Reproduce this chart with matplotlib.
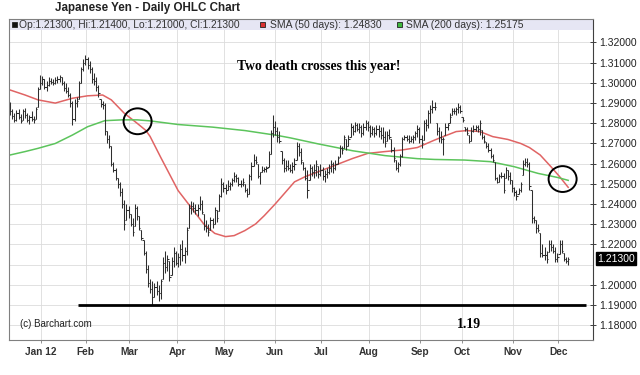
import numpy as np
import matplotlib
matplotlib.use("Agg")
import matplotlib.pyplot as plt
from matplotlib.patches import Rectangle, Ellipse
from matplotlib.transforms import blended_transform_factory

# ---------------- data (prices in pips, 1e-4) ----------------
low = [
    12840,12820,12805,12810,12820,12800,12815,12825,12805,12795,
    12810,12800,12820,12880,12970,12990,12970,12960,12985,12995,
    12990,12995,13000,13005,12990,12960,12950,12930,12880,12790,
    12810,12880,12920,13000,13060,13090,13070,13050,13000,12990,
    12960,12930,12880,12870,12740,12700,12680,12590,12560,12520,
    12480,12440,12380,12270,12320,12330,12290,12240,12290,12320,
    12270,12220,12150,12060,11990,11960,11900,11940,11950,11920,
    11930,12030,12060,12070,12020,12050,12090,12100,12090,12100,
    12120,12110,12150,12280,12350,12360,12350,12340,12370,12350,
    12270,12260,12244,12270,12280,12300,12310,12368,12434,12460,
    12450,12470,12470,12490,12508,12510,12490,12483,12490,12460,
    12434,12450,12520,12590,12600,12530,12500,12558,12560,12560,
    12583,12650,12730,12740,12707,12700,12600,12558,12566,12570,
    12560,12552,12570,12620,12640,12600,12570,12519,12428,12519,
    12540,12530,12540,12527,12540,12520,12510,12530,12550,12560,
    12552,12570,12600,12635,12650,12680,12668,12690,12734,12740,
    12758,12760,12750,12734,12740,12767,12760,12734,12740,12734,
    12740,12730,12720,12700,12684,12710,12720,12660,12610,12570,
    12560,12590,12635,12717,12710,12700,12705,12700,12717,12734,
    12700,12676,12717,12760,12775,12800,12850,12866,12740,12709,
    12700,12643,12740,12767,12800,12841,12845,12840,12850,12850,
    12808,12760,12742,12700,12710,12759,12760,12759,12742,12720,
    12700,12680,12660,12630,12610,12519,12502,12510,12530,12453,
    12530,12519,12500,12461,12440,12420,12450,12460,12544,12590,
    12585,12470,12304,12304,12255,12260,12139,12140,12122,12110,
    12164,12170,12160,12114,12114,12155,12160,12120,12106,12100,
]
high = [
    12905,12870,12850,12865,12870,12845,12870,12875,12850,12840,
    12860,12835,12880,12980,13040,13035,13020,13010,13030,13025,
    13020,13030,13035,13040,13030,13010,13000,12980,12950,12910,
    12920,12930,13010,13080,13120,13140,13130,13110,13080,13050,
    13030,12990,12920,12910,12900,12760,12740,12690,12610,12580,
    12530,12510,12480,12420,12400,12390,12350,12330,12400,12390,
    12340,12270,12220,12170,12100,12030,12020,12010,12020,12000,
    12030,12140,12170,12150,12120,12140,12186,12170,12160,12200,
    12220,12190,12285,12400,12417,12410,12400,12400,12442,12420,
    12350,12320,12300,12335,12330,12385,12370,12450,12530,12510,
    12500,12517,12510,12530,12558,12550,12533,12520,12530,12500,
    12480,12550,12607,12650,12640,12600,12560,12590,12585,12590,
    12665,12765,12840,12810,12780,12760,12665,12630,12616,12620,
    12600,12610,12630,12709,12700,12680,12610,12585,12569,12600,
    12590,12600,12618,12590,12600,12585,12570,12580,12600,12618,
    12610,12620,12640,12693,12690,12742,12720,12740,12800,12790,
    12808,12800,12800,12790,12800,12817,12810,12790,12785,12780,
    12790,12790,12780,12783,12760,12760,12770,12720,12684,12618,
    12610,12650,12734,12742,12742,12740,12735,12740,12760,12790,
    12783,12740,12817,12820,12866,12890,12916,12907,12800,12783,
    12760,12734,12800,12800,12850,12874,12874,12880,12900,12893,
    12833,12783,12780,12740,12780,12792,12790,12792,12817,12767,
    12740,12709,12700,12676,12650,12610,12536,12550,12560,12552,
    12585,12570,12560,12519,12486,12470,12480,12510,12618,12626,
    12626,12610,12470,12340,12320,12300,12255,12200,12188,12170,
    12221,12220,12200,12188,12160,12221,12221,12160,12139,12140,
]
close = [
    12860,12835,12815,12850,12830,12810,12860,12840,12815,12830,
    12820,12815,12870,12970,13000,13020,12980,12990,13010,13005,
    13000,13015,13020,13030,13000,12975,12960,12940,12900,12820,
    12900,12910,13000,13070,13100,13120,13090,13070,13020,13010,
    12980,12950,12895,12890,12760,12720,12690,12600,12570,12530,
    12500,12460,12400,12300,12370,12350,12300,12260,12380,12340,
    12280,12230,12160,12080,12010,11980,11940,11990,11970,11960,
    12020,12110,12090,12130,12040,12120,12160,12110,12140,12180,
    12150,12170,12270,12380,12390,12380,12370,12380,12400,12360,
    12290,12280,12260,12320,12300,12370,12330,12440,12500,12480,
    12470,12490,12500,12520,12540,12530,12500,12500,12510,12470,
    12450,12540,12590,12620,12610,12540,12560,12570,12575,12580,
    12650,12750,12780,12760,12730,12710,12620,12580,12590,12580,
    12570,12590,12600,12690,12660,12620,12580,12530,12470,12580,
    12560,12570,12600,12550,12570,12540,12550,12560,12580,12600,
    12580,12600,12630,12680,12670,12730,12690,12720,12780,12760,
    12790,12770,12780,12750,12780,12800,12780,12750,12770,12750,
    12770,12760,12740,12730,12700,12740,12730,12670,12630,12580,
    12600,12640,12720,12730,12720,12710,12720,12730,12750,12770,
    12720,12700,12800,12790,12850,12870,12880,12880,12760,12730,
    12720,12720,12780,12790,12830,12860,12860,12870,12880,12860,
    12815,12770,12750,12710,12760,12770,12780,12770,12800,12730,
    12710,12690,12670,12640,12620,12530,12510,12540,12540,12470,
    12570,12540,12520,12480,12460,12440,12470,12500,12600,12610,
    12600,12490,12330,12320,12280,12270,12160,12150,12150,12130,
    12200,12190,12170,12130,12140,12200,12170,12130,12120,12130,
]
first_open = 12880

sma50_idx = [0, 7, 13, 21, 29, 36, 43, 47, 53, 59, 63, 65, 70, 78, 84, 90, 95, 100,
             104, 109, 114, 118, 123, 128, 132, 137, 143, 151, 159, 166, 174, 182,
             189, 197, 201, 207, 212, 218, 224, 231, 237, 241, 246, 251, 255, 259]
sma50_val = [1.2965, 1.2940, 1.2916, 1.2900, 1.2924, 1.2936, 1.2940, 1.2916, 1.2850,
             1.2800, 1.2765, 1.2735, 1.2630, 1.2467, 1.2384, 1.2300, 1.2255, 1.2239,
             1.2244, 1.2269, 1.2302, 1.2343, 1.2400, 1.2461, 1.2510, 1.2536, 1.2560,
             1.2593, 1.2626, 1.2651, 1.2660, 1.2668, 1.2680, 1.2717, 1.2734, 1.2759,
             1.2764, 1.2759, 1.2734, 1.2720, 1.2700, 1.2680, 1.2643, 1.2585, 1.2536,
             1.2483]
sma200_idx = [0, 7, 13, 21, 29, 36, 44, 52, 59, 65, 78, 94, 109, 124, 130, 143, 159,
              174, 189, 197, 211, 223, 234, 245, 254, 259]
sma200_val = [1.2643, 1.2660, 1.2676, 1.2700, 1.2742, 1.2783, 1.2813, 1.2817, 1.2817,
              1.2812, 1.2794, 1.2781, 1.2764, 1.2740, 1.2728, 1.2698, 1.2664, 1.2640,
              1.2625, 1.2621, 1.2618, 1.2610, 1.2585, 1.2552, 1.2532, 1.25175]

month_labels = ["Jan 12", "Feb", "Mar", "Apr", "May", "Jun", "Jul", "Aug", "Sep",
                "Oct", "Nov", "Dec"]
month_pos = [14.4, 35.1, 55.4, 77.6, 99.4, 123.0, 144.2, 166.6, 190.3, 209.6, 233.3, 254.4]

price_ticks = [1.18, 1.19, 1.20, 1.22, 1.23, 1.24, 1.25, 1.26, 1.27, 1.28, 1.29,
               1.30, 1.31, 1.32]
last_price = 1.21300
support_level = 1.19
support_span = (31.7, 267.3)
cross_marks = [(59.2, 1.2810), (256.4, 1.2524)]

assert len(low) == len(high) == len(close) == 260

lo = np.array(low) / 1e4
hi = np.array(high) / 1e4
cl = np.array(close) / 1e4
op = np.concatenate([[first_open / 1e4], cl[:-1]])
op = np.clip(op, lo, hi)
idx = np.arange(len(cl))

# ---------------- figure ----------------
SANS = ["Liberation Sans", "DejaVu Sans"]
SERIF = ["Liberation Serif", "DejaVu Serif"]
plt.rcParams["font.family"] = SANS

W, H = 640, 375
fig = plt.figure(figsize=(6.4, 3.75), dpi=100)
fig.patch.set_facecolor("white")
ax = fig.add_axes([9 / W, 1 - 340 / H, 584 / W, 321 / H])

ax.set_xlim(-0.46, 270.5)
ax.set_ylim(1.17272, 1.33163)

# grid
for p in np.arange(1.18, 1.3251, 0.01):
    ax.axhline(p, color="#dcdcdc", lw=0.6, zorder=0)
for m in month_pos:
    ax.axvline(m, color="#dcdcdc", lw=0.6, zorder=0)

# OHLC bars
bar_col = "#2e2e2e"
ax.vlines(idx, lo, hi, color=bar_col, lw=0.75, zorder=3)
ax.hlines(cl, idx, idx + 0.55, color=bar_col, lw=0.75, zorder=3)
ax.hlines(op, idx - 0.55, idx, color=bar_col, lw=0.75, zorder=3)

# moving averages
ax.plot(sma50_idx, sma50_val, color="#e06464", lw=1.1, zorder=2)
ax.plot(sma200_idx, sma200_val, color="#5cc45c", lw=1.1, zorder=2)

# support line
ax.hlines(support_level, support_span[0], support_span[1], color="black", lw=2.0, zorder=4)

# circles
for (cx, cy) in cross_marks:
    ax.add_patch(Ellipse((cx, cy), 13.0, 0.0128, fill=False, edgecolor="black",
                         lw=1.4, zorder=5))

# annotations
ax.text(143.4, 1.3079, "Two death crosses this year!", family=SERIF, fontweight="bold",
        fontsize=9.8, ha="center", va="center", color="black", zorder=6)
ax.text(213.0, 1.1806, "1.19", family=SERIF, fontweight="bold", fontsize=10,
        ha="center", va="center", color="black", zorder=6)
ax.text(4.6, 1.1806, "(c) Barchart.com", fontsize=7, ha="left", va="center",
        color="#222222", zorder=6)

# legend band at top of plot
ax.add_patch(Rectangle((0, 1 - 11 / 321), 1, 11 / 321, transform=ax.transAxes,
                       facecolor="#e6e6f4", edgecolor="none", zorder=7))

# axes styling
for s in ["left", "top", "bottom"]:
    ax.spines[s].set_color("#808080")
    ax.spines[s].set_linewidth(0.8)
ax.spines["right"].set_color("#404040")
ax.spines["right"].set_linewidth(0.8)
for s in ax.spines.values():
    s.set_zorder(8)

ax.yaxis.tick_right()
ax.set_yticks(price_ticks)
ax.set_yticklabels([f"{v:.5f}" for v in price_ticks])
ax.tick_params(axis="y", direction="inout", length=5, width=0.7, color="#404040",
               pad=2, labelsize=7.5, labelcolor="#222222")
ax.set_xticks(month_pos)
ax.set_xticklabels(month_labels, fontweight="bold")
ax.tick_params(axis="x", direction="out", length=2, width=0.6, color="#808080",
               pad=3, labelsize=7.3, labelcolor="#333333")

# last price box
tr = blended_transform_factory(ax.transAxes, ax.transData)
ax.text(1.0075, last_price, f"{last_price:.5f}", transform=tr, ha="left", va="center",
        fontsize=7.5, color="white",
        bbox=dict(facecolor="black", edgecolor="black", boxstyle="square,pad=0.12"),
        zorder=9, clip_on=False)

# chart title
fig.text(55 / W, 1 - 7.5 / H, "Japanese Yen - Daily OHLC Chart", fontsize=8.4,
         fontweight="bold", ha="left", va="center", color="#222222")

# legend entries
ly = 1 - 24.5 / H
sq = 5
def square(xpx, color):
    fig.add_artist(Rectangle((xpx / W, 1 - 27 / H), sq / W, sq / H,
                             transform=fig.transFigure, facecolor=color,
                             edgecolor="#222222", lw=0.6, zorder=10))
square(12, "#111111")
fig.text(19 / W, ly, "Op:1.21300, Hi:1.21400, Lo:1.21000, Cl:1.21300", fontsize=7.4,
         ha="left", va="center", color="#333333", zorder=10)
square(260, "#d93030")
fig.text(270 / W, ly, "SMA (50 days): 1.24830", fontsize=7.5, ha="left", va="center",
         color="#333333", zorder=10)
square(397, "#3fb83f")
fig.text(406 / W, ly, "SMA (200 days): 1.25175", fontsize=7.5, ha="left", va="center",
         color="#333333", zorder=10)

fig.savefig("out.png", dpi=100, facecolor="white")
